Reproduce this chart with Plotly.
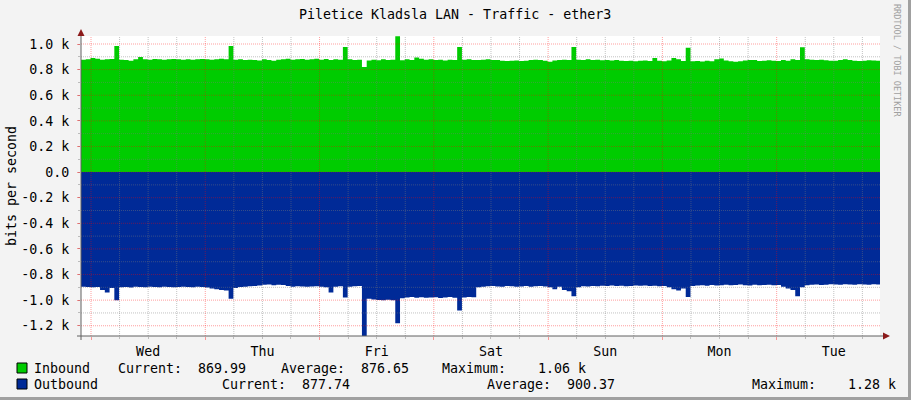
import plotly.graph_objects as go
import pandas as pd

# ---------------- data (bits per second, hourly samples) ----------------
start_time = "2024-01-02 21:54"
span_hours = 167.8

inbound = [
    878, 880, 890, 885, 878, 880, 882, 984, 878, 876, 870, 880,
    898, 880, 878, 882, 880, 878, 880, 882, 880, 878, 880, 878,
    880, 882, 880, 878, 880, 885, 880, 984, 878, 880, 876, 878,
    875, 872, 880, 876, 870, 878, 880, 885, 878, 880, 882, 878,
    880, 885, 878, 882, 876, 880, 878, 977, 880, 876, 878, 820,
    872, 878, 874, 880, 876, 878, 1060, 874, 880, 876, 895, 885,
    878, 880, 876, 878, 872, 878, 876, 977, 878, 880, 875, 876,
    878, 880, 876, 875, 870, 868, 870, 872, 868, 870, 876, 878,
    876, 870, 862, 872, 876, 878, 875, 977, 878, 876, 880, 875,
    878, 874, 876, 872, 875, 870, 868, 870, 866, 870, 872, 868,
    890, 870, 866, 872, 890, 880, 868, 970, 866, 868, 864, 870,
    866, 880, 886, 872, 866, 862, 866, 872, 876, 875, 868, 870,
    874, 870, 868, 876, 870, 880, 876, 975, 880, 878, 875, 878,
    874, 870, 870, 876, 880, 876, 870, 868, 870, 874, 872, 870, 870,
]

outbound = [
    895, 898, 900, 898, 920, 940, 905, 1000, 900, 898, 902, 896,
    898, 900, 895, 898, 900, 896, 898, 900, 898, 895, 898, 900,
    896, 898, 902, 910, 915, 920, 925, 990, 905, 898, 895, 892,
    890, 885, 880, 878, 884, 880, 882, 890, 895, 892, 894, 896,
    894, 892, 895, 900, 940, 896, 892, 980, 895, 892, 890, 1280,
    990, 995, 998, 1000, 996, 1000, 1180, 985, 980, 976, 982, 978,
    982, 980, 978, 984, 980, 976, 982, 1080, 980, 976, 978, 900,
    895, 892, 890, 894, 896, 890, 892, 895, 894, 890, 896, 892,
    890, 894, 900, 915, 895, 920, 930, 970, 900, 892, 894, 890,
    892, 888, 890, 886, 890, 888, 892, 890, 885, 888, 886, 890,
    888, 892, 890, 900, 915, 925, 910, 975, 890, 886, 884, 888,
    882, 886, 884, 880, 884, 882, 878, 884, 886, 880, 884, 882,
    880, 884, 882, 895, 910, 920, 970, 900, 884, 880, 878, 882,
    880, 876, 878, 880, 876, 878, 880, 876, 878, 880, 876, 878, 878,
]

ytick_vals = [1000, 800, 600, 400, 200, 0, -200, -400, -600, -800, -1000, -1200]
ytick_text = ["1.0 k", "0.8 k", "0.6 k", "0.4 k", "0.2 k", "0.0",
              "-0.2 k", "-0.4 k", "-0.6 k", "-0.8 k", "-1.0 k", "-1.2 k"]

legend_rows = [
    ("Inbound", "#00CC00", [("Current:  869.99", 116), ("Average:  876.65", 279), ("Maximum:    1.06 k", 440)]),
    ("Outbound", "#002A97", [("Current:  877.74", 220), ("Average:  900.37", 485), ("Maximum:    1.28 k", 750)]),
]

title = "Piletice Kladsla LAN - Traffic - ether3"

# ---------------- layout geometry ----------------
W, H = 911, 400
L, R, T, B = 81, 31, 36, 64
PW, PH = W - L - R, H - T - B
FONT = "DejaVu Sans Mono"
FS = 13.3

def xp(px):
    return (px - L) / PW

def yp(py):
    return (H - B - py) / PH

t0 = pd.Timestamp(start_time)
t1 = t0 + pd.Timedelta(hours=span_hours)
times = [t0 + pd.Timedelta(hours=i) for i in range(len(inbound))]

fig = go.Figure()
fig.add_trace(go.Scatter(x=times, y=inbound, mode="lines", line=dict(width=0, shape="hv"),
                         fill="tozeroy", fillcolor="#00CC00", hoverinfo="skip", showlegend=False))
fig.add_trace(go.Scatter(x=times, y=[-v for v in outbound], mode="lines", line=dict(width=0, shape="hv"),
                         fill="tozeroy", fillcolor="#002A97", hoverinfo="skip", showlegend=False))

RED = "rgba(255,0,0,0.38)"
GRAY = "rgba(120,120,120,0.45)"
shapes = []
# horizontal grid on top of data
for v in range(-1200, 1001, 100):
    shapes.append(dict(type="line", xref="paper", x0=0, x1=1, yref="y", y0=v, y1=v,
                       line=dict(color=RED if v % 200 == 0 else GRAY, width=1, dash="1px,1px"),
                       layer="above"))
# vertical grid every 6 h
g = t0.ceil("6h")
while g < t1:
    shapes.append(dict(type="line", xref="x", x0=g, x1=g, yref="paper", y0=0, y1=1,
                       line=dict(color=RED if g.hour == 0 else GRAY, width=1, dash="1px,1px"),
                       layer="above"))
    g += pd.Timedelta(hours=6)

AX = "#606060"
ARROW = "#8B1A1A"
# axis lines
shapes.append(dict(type="line", xref="paper", yref="paper", x0=xp(81), x1=xp(81), y0=yp(340), y1=yp(33),
                   line=dict(color=AX, width=1), layer="above"))
shapes.append(dict(type="line", xref="paper", yref="paper", x0=xp(77), x1=xp(885), y0=yp(336), y1=yp(336),
                   line=dict(color=AX, width=1), layer="above"))
# arrows
shapes.append(dict(type="path", xref="paper", yref="paper",
                   path=f"M {xp(77.5)},{yp(36)} L {xp(84.5)},{yp(36)} L {xp(81)},{yp(29)} Z",
                   fillcolor=ARROW, line=dict(width=0), layer="above"))
shapes.append(dict(type="path", xref="paper", yref="paper",
                   path=f"M {xp(883)},{yp(332.5)} L {xp(883)},{yp(339.5)} L {xp(890)},{yp(336)} Z",
                   fillcolor=ARROW, line=dict(width=0), layer="above"))
# 3D frame on the right / bottom
shapes.append(dict(type="rect", xref="paper", yref="paper", x0=xp(908), x1=xp(911), y0=yp(400), y1=yp(0),
                   fillcolor="#a0a0a0", line=dict(width=0)))
shapes.append(dict(type="rect", xref="paper", yref="paper", x0=xp(0), x1=xp(911), y0=yp(400), y1=yp(397),
                   fillcolor="#a0a0a0", line=dict(width=0)))

annotations = []
annotations.append(dict(text=title, xref="paper", yref="paper", x=xp(455), y=yp(14),
                        xanchor="center", yanchor="middle", showarrow=False,
                        font=dict(family=FONT, size=FS, color="#000")))
annotations.append(dict(text="bits per second", xref="paper", yref="paper", x=xp(11), y=yp(186),
                        xanchor="center", yanchor="middle", textangle=-90, showarrow=False,
                        font=dict(family=FONT, size=FS, color="#000")))
annotations.append(dict(text="RRDTOOL / TOBI OETIKER", xref="paper", yref="paper", x=xp(897), y=yp(61),
                        xanchor="center", yanchor="middle", textangle=90, showarrow=False,
                        font=dict(family=FONT, size=8.5, color="#a0a0a0")))
for row, (name, color, items) in enumerate(legend_rows):
    cy = 368 + 16 * row
    shapes.append(dict(type="rect", xref="paper", yref="paper", x0=xp(17), x1=xp(27), y0=yp(cy - 5), y1=yp(cy + 5),
                       fillcolor=color, line=dict(color="#000", width=1)))
    annotations.append(dict(text=name, xref="paper", yref="paper", x=xp(32), y=yp(cy),
                            xanchor="left", yanchor="middle", showarrow=False,
                            font=dict(family=FONT, size=FS, color="#000")))
    for txt, px in items:
        annotations.append(dict(text=txt.replace(" ", "&nbsp;"), xref="paper", yref="paper", x=xp(px), y=yp(cy),
                                xanchor="left", yanchor="middle", showarrow=False,
                                font=dict(family=FONT, size=FS, color="#000")))

fig.update_layout(
    width=W, height=H,
    margin=dict(l=L, r=R, t=T, b=B, pad=0),
    paper_bgcolor="#F3F3F3", plot_bgcolor="#FFFFFF",
    font=dict(family=FONT, size=FS, color="#000"),
    shapes=shapes, annotations=annotations, showlegend=False,
    xaxis=dict(type="date", range=[t0, t1], showgrid=False, zeroline=False, showline=False,
               tick0="2024-01-03", dtick=86400000, tickformat="%a", ticklabelmode="period",
               ticks="outside", ticklen=3, tickcolor=RED,
               minor=dict(dtick=6 * 3600000, ticks="outside", ticklen=2, tickcolor=GRAY, showgrid=False),
               tickfont=dict(family=FONT, size=FS)),
    yaxis=dict(range=[-1280, 1062.5], showgrid=False, zeroline=False, showline=False,
               tickmode="array", tickvals=ytick_vals, ticktext=ytick_text,
               ticks="outside", ticklen=3, tickcolor=RED, ticklabelstandoff=5,
               minor=dict(dtick=100, ticks="outside", ticklen=2, tickcolor=GRAY, showgrid=False),
               tickfont=dict(family=FONT, size=FS)),
)

fig.write_html("out.html", config={"displayModeBar": False},
               post_script="document.body.style.margin='0';document.body.style.padding='0';")
